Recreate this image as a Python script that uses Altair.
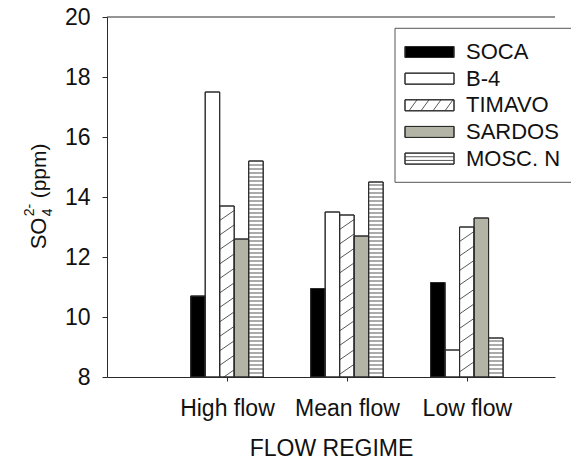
import json
import altair as alt
import pandas as pd

# ---------------- data ----------------
categories = ["High flow", "Mean flow", "Low flow"]
series = ["SOCA", "B-4", "TIMAVO", "SARDOS", "MOSC. N"]
soca = [10.7, 10.95, 11.15]
b4 = [17.5, 13.5, 8.9]
timavo = [13.7, 13.4, 13.0]
sardos = [12.6, 12.7, 13.3]
mosc = [15.2, 14.5, 9.3]
fills = ["#000000", "#ffffff", "#ffffff", "#b3b4a5", "#ffffff"]
y_ticks = [8, 10, 12, 14, 16, 18, 20]
x_title = "FLOW REGIME"

values = [soca, b4, timavo, sardos, mosc]

# ---------------- geometry ----------------
W, H = 448, 360
X_MAX = 3.735
Y_MIN, Y_MAX = 8, 20
XS = W / X_MAX            # px per x unit
YS = H / (Y_MAX - Y_MIN)  # px per y unit
BAR_PX = 14.5
BAR_W = BAR_PX / XS
FONT = "Liberation Sans"
LINE = "#2a2a2a"
FS = 23

def dx(px):  # px offset from plot left -> data x
    return px / XS

def dy(py):  # px offset from plot top -> data y
    return Y_MAX - py / YS

def diag_segments(x0, y0, wpx, hpx, rise, run, spacing):
    """'/' hatch lines clipped to a rectangle; x0,y0 = data lower-left."""
    m = rise / run
    segs = []
    c = -hpx / m
    while c < wpx:
        xl = max(0.0, c)
        xh = min(wpx, c + hpx / m)
        if xh - xl > 0.3:
            segs.append((x0 + xl / XS, y0 + m * (xl - c) / YS,
                         x0 + xh / XS, y0 + m * (xh - c) / YS))
        c += spacing
    return segs

def horiz_segments(x0, y0, wpx, hpx, spacing):
    segs = []
    h = spacing
    while h < hpx - 0.8:
        segs.append((x0, y0 + h / YS, x0 + wpx / XS, y0 + h / YS))
        h += spacing
    return segs

bars = []
hatch = []
for j, (name, vals) in enumerate(zip(series, values)):
    for i, (cat, v) in enumerate(zip(categories, vals)):
        center = i + 1 + (j - 2) * BAR_W
        x0 = center - BAR_W / 2
        bars.append({"series": name, "cat": cat, "x": x0, "x2": x0 + BAR_W,
                     "y": v, "y2": Y_MIN})
        hpx = (v - Y_MIN) * YS
        if name == "TIMAVO":
            hatch += diag_segments(x0, Y_MIN, BAR_PX, hpx, 10.0, BAR_PX, 21.0)
        elif name == "MOSC. N":
            hatch += horiz_segments(x0, Y_MIN, BAR_PX, hpx, 4.0)

bars_df = pd.DataFrame(bars)
hatch_df = pd.DataFrame(hatch, columns=["x", "y", "x2", "y2"])

# legend (manual, so that hatch patterns can be shown)
PL, PT = 107, 16.7
box = pd.DataFrame([{"x": dx(395 - PL), "x2": dx(574 - PL),
                     "y": dy(28 - PT), "y2": dy(182 - PT)}])
leg_rows = []
leg_hatch = []
for k, name in enumerate(series):
    cy = 51.7 + k * 26.65 - PT
    sx0, sx1 = 405 - PL, 454 - PL
    leg_rows.append({"series": name, "x": dx(sx0), "x2": dx(sx1),
                     "y": dy(cy - 5.5), "y2": dy(cy + 5.5),
                     "tx": dx(466 - PL), "ty": dy(cy)})
    if name == "TIMAVO":
        leg_hatch += diag_segments(dx(sx0), dy(cy + 5.5), sx1 - sx0, 11, 11, 8, 12)
    elif name == "MOSC. N":
        leg_hatch += horiz_segments(dx(sx0), dy(cy + 5.5), sx1 - sx0, 11, 3.67)
leg_df = pd.DataFrame(leg_rows)
leg_hatch_df = pd.DataFrame(leg_hatch, columns=["x", "y", "x2", "y2"])

xscale = alt.Scale(domain=[0, X_MAX], nice=False, zero=False)
yscale = alt.Scale(domain=[Y_MIN, Y_MAX], nice=False, zero=False)
label_expr = json.dumps(categories) + "[datum.value - 1]"

x_axis = alt.Axis(values=[1, 2, 3], labelExpr=label_expr, title=x_title,
                  grid=False, tickSize=4, labelPadding=16, titlePadding=17,
                  labelFontSize=FS, titleFontSize=FS, labelFont=FONT,
                  titleFont=FONT, titleFontWeight="normal", labelColor="#111",
                  titleColor="#111", domainColor=LINE, tickColor=LINE,
                  labelFlush=False)
y_axis = alt.Axis(values=y_ticks, title=None, grid=False, tickSize=5,
                  labelPadding=12, labelFontSize=FS, labelFont=FONT,
                  labelColor="#111", domainColor=LINE, tickColor=LINE)

def X(f):
    return alt.X(f, type="quantitative", scale=xscale, axis=x_axis)

def Y(f):
    return alt.Y(f, type="quantitative", scale=yscale, axis=y_axis)

fill_scale = alt.Scale(domain=series, range=fills)

bar_layer = alt.Chart(bars_df).mark_rect(stroke=LINE, strokeWidth=1).encode(
    x=X("x"), x2="x2", y=Y("y"), y2="y2",
    fill=alt.Fill("series:N", scale=fill_scale, legend=None),
)
hatch_layer = alt.Chart(hatch_df).mark_rule(color="#444", strokeWidth=0.9).encode(
    x=X("x"), x2="x2", y=Y("y"), y2="y2")
outline_layer = alt.Chart(bars_df).mark_rect(stroke=LINE, strokeWidth=1, fillOpacity=0).encode(
    x=X("x"), x2="x2", y=Y("y"), y2="y2")

box_layer = alt.Chart(box).mark_rect(fill="white", stroke="#555", strokeWidth=1).encode(
    x=X("x"), x2="x2", y=Y("y"), y2="y2")
sym_layer = alt.Chart(leg_df).mark_rect(stroke=LINE, strokeWidth=1).encode(
    x=X("x"), x2="x2", y=Y("y"), y2="y2",
    fill=alt.Fill("series:N", scale=fill_scale, legend=None))
leg_hatch_layer = alt.Chart(leg_hatch_df).mark_rule(color="#444", strokeWidth=0.9).encode(
    x=X("x"), x2="x2", y=Y("y"), y2="y2")
sym_outline = alt.Chart(leg_df).mark_rect(stroke=LINE, strokeWidth=1, fillOpacity=0).encode(
    x=X("x"), x2="x2", y=Y("y"), y2="y2")
leg_text = alt.Chart(leg_df).mark_text(align="left", baseline="middle", fontSize=22,
                                       font=FONT, color="#111").encode(
    x=X("tx"), y=Y("ty"), text="series:N")

dummy = pd.DataFrame({"a": [0]})
top_rule = alt.Chart(dummy).mark_rule(color=LINE, strokeWidth=1).encode(
    x=alt.value(0), x2=alt.value(W), y=alt.value(0))

def ttext(txt, x, y, size):
    return alt.Chart(dummy).mark_text(text=txt, angle=270, align="left",
                                      baseline="alphabetic", fontSize=size,
                                      font=FONT, color="#111").encode(
        x=alt.value(x), y=alt.value(y))

title_layers = [
    ttext("SO", -61, 249 - PT, 22),
    ttext("4", -55, 216 - PT, 14),
    ttext("2-", -73, 216 - PT, 14),
    ttext("(ppm)", -61, 198 - PT, 21),
]

chart = alt.layer(
    top_rule, bar_layer, hatch_layer, outline_layer,
    box_layer, sym_layer, leg_hatch_layer, sym_outline, leg_text,
    *title_layers,
).properties(
    width=W, height=H,
    autosize=alt.AutoSizeParams(type="none"),
    padding={"left": 99, "top": 9, "right": 16, "bottom": 84},
).configure_view(stroke=None)

chart.save("out.html", embed_options={"renderer": "svg", "actions": False})
